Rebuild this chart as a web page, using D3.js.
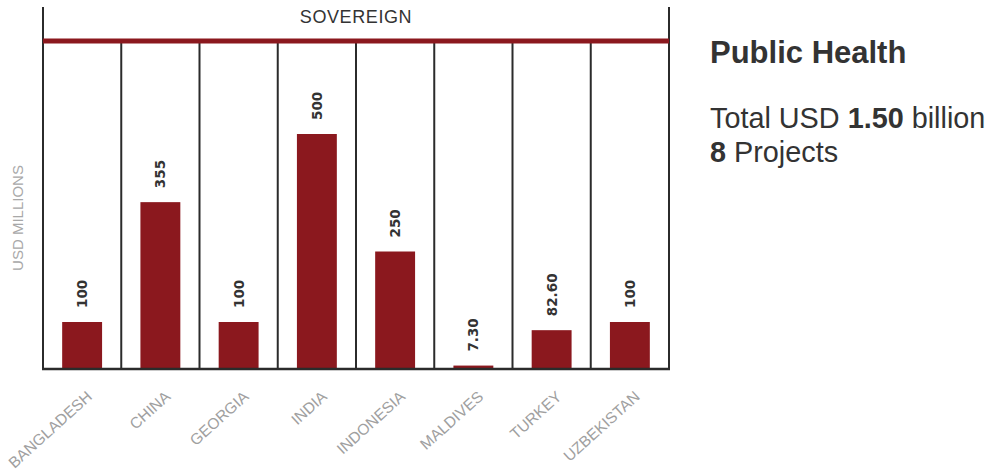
<!DOCTYPE html>
<html>
<head>
<meta charset="utf-8">
<script src="https://cdn.jsdelivr.net/npm/d3@7"></script>
<style>
  html, body { margin: 0; padding: 0; background: #fff; }
  svg { display: block; }
</style>
</head>
<body>
<svg id="chart" width="990" height="471"></svg>
<script>
const categories = ["BANGLADESH", "CHINA", "GEORGIA", "INDIA", "INDONESIA", "MALDIVES", "TURKEY", "UZBEKISTAN"];
const values = [100, 355, 100, 500, 250, 7.30, 82.60, 100];
const valueLabels = ["100", "355", "100", "500", "250", "7.30", "82.60", "100"];
const groupLabel = "SOVEREIGN";
const yAxisLabel = "USD MILLIONS";
const title = "Public Health";
const totalAmount = "1.50";
const projectCount = "8";

(function draw() {
const svg = d3.select("#chart");
const leftX = 43, rightX = 669, topY = 7, bandTop = 41, base = 369;
const barColor = "#8b181e";
const lineColor = "#2b2b2b";

const x = d3.scaleBand().domain(categories).range([leftX, rightX]).paddingInner(0.49).paddingOuter(0.245);
const xCell = d3.scaleBand().domain(categories).range([leftX, rightX]).padding(0);
const y = d3.scaleLinear().domain([0, 700]).range([base, 40]);

// bars
svg.append("g").selectAll("rect").data(categories).join("rect")
  .attr("x", d => x(d))
  .attr("width", x.bandwidth())
  .attr("y", (d, i) => y(values[i]))
  .attr("height", (d, i) => y(0) - y(values[i]))
  .attr("fill", barColor);

// interior dividers
svg.append("g").selectAll("line").data(categories.slice(1)).join("line")
  .attr("x1", d => xCell(d)).attr("x2", d => xCell(d))
  .attr("y1", bandTop).attr("y2", base)
  .attr("stroke", lineColor).attr("stroke-width", 2);

// outer borders
[leftX, rightX].forEach(px => {
  svg.append("line").attr("x1", px).attr("x2", px).attr("y1", topY).attr("y2", base + 1)
    .attr("stroke", lineColor).attr("stroke-width", 2);
});

// baseline
svg.append("line").attr("x1", leftX - 1).attr("x2", rightX + 1).attr("y1", base).attr("y2", base)
  .attr("stroke", lineColor).attr("stroke-width", 2.5);

// red group band
svg.append("line").attr("x1", leftX).attr("x2", rightX).attr("y1", bandTop).attr("y2", bandTop)
  .attr("stroke", barColor).attr("stroke-width", 5);

const font = "Liberation Sans, Arial, sans-serif";

svg.append("text").attr("x", (leftX + rightX) / 2).attr("y", 23)
  .attr("text-anchor", "middle")
  .attr("font-family", font).attr("font-size", 18).attr("letter-spacing", 0.6)
  .attr("fill", "#333").text(groupLabel);

// value labels
svg.append("g").selectAll("text").data(categories).join("text")
  .attr("transform", (d, i) => `translate(${x(d) + x.bandwidth() / 2},${y(values[i]) - 14}) rotate(-90)`)
  .attr("dy", "0.36em")
  .attr("text-anchor", "start")
  .attr("font-family", "DejaVu Sans, sans-serif").attr("font-weight", "bold").attr("font-size", 13.5)
  .attr("fill", "#333")
  .text((d, i) => valueLabels[i]);

// x category labels
svg.append("g").selectAll("text").data(categories).join("text")
  .attr("transform", d => `translate(${x(d) + x.bandwidth() / 2 + 11},${base + 29}) rotate(-42)`)
  .attr("text-anchor", "end")
  .attr("font-family", font).attr("font-size", 15.5)
  .attr("fill", "#a0a0a0")
  .text(d => d);

// y axis label
svg.append("text")
  .attr("transform", `translate(23,218) rotate(-90)`)
  .attr("text-anchor", "middle")
  .attr("font-family", font).attr("font-size", 15)
  .attr("fill", "#a8a8a8").text(yAxisLabel);

// side panel
svg.append("text").attr("x", 710).attr("y", 63)
  .attr("font-family", font).attr("font-weight", "bold").attr("font-size", 31)
  .attr("fill", "#333").text(title);

const t1 = svg.append("text").attr("x", 710).attr("y", 128)
  .attr("font-family", font).attr("font-size", 28.8).attr("fill", "#333");
t1.append("tspan").text("Total USD ");
t1.append("tspan").attr("font-weight", "bold").text(totalAmount);
t1.append("tspan").text(" billion");

const t2 = svg.append("text").attr("x", 710).attr("y", 162)
  .attr("font-family", font).attr("font-size", 28.8).attr("fill", "#333");
t2.append("tspan").attr("font-weight", "bold").text(projectCount);
t2.append("tspan").text(" Projects");
})();
</script>
</body>
</html>
